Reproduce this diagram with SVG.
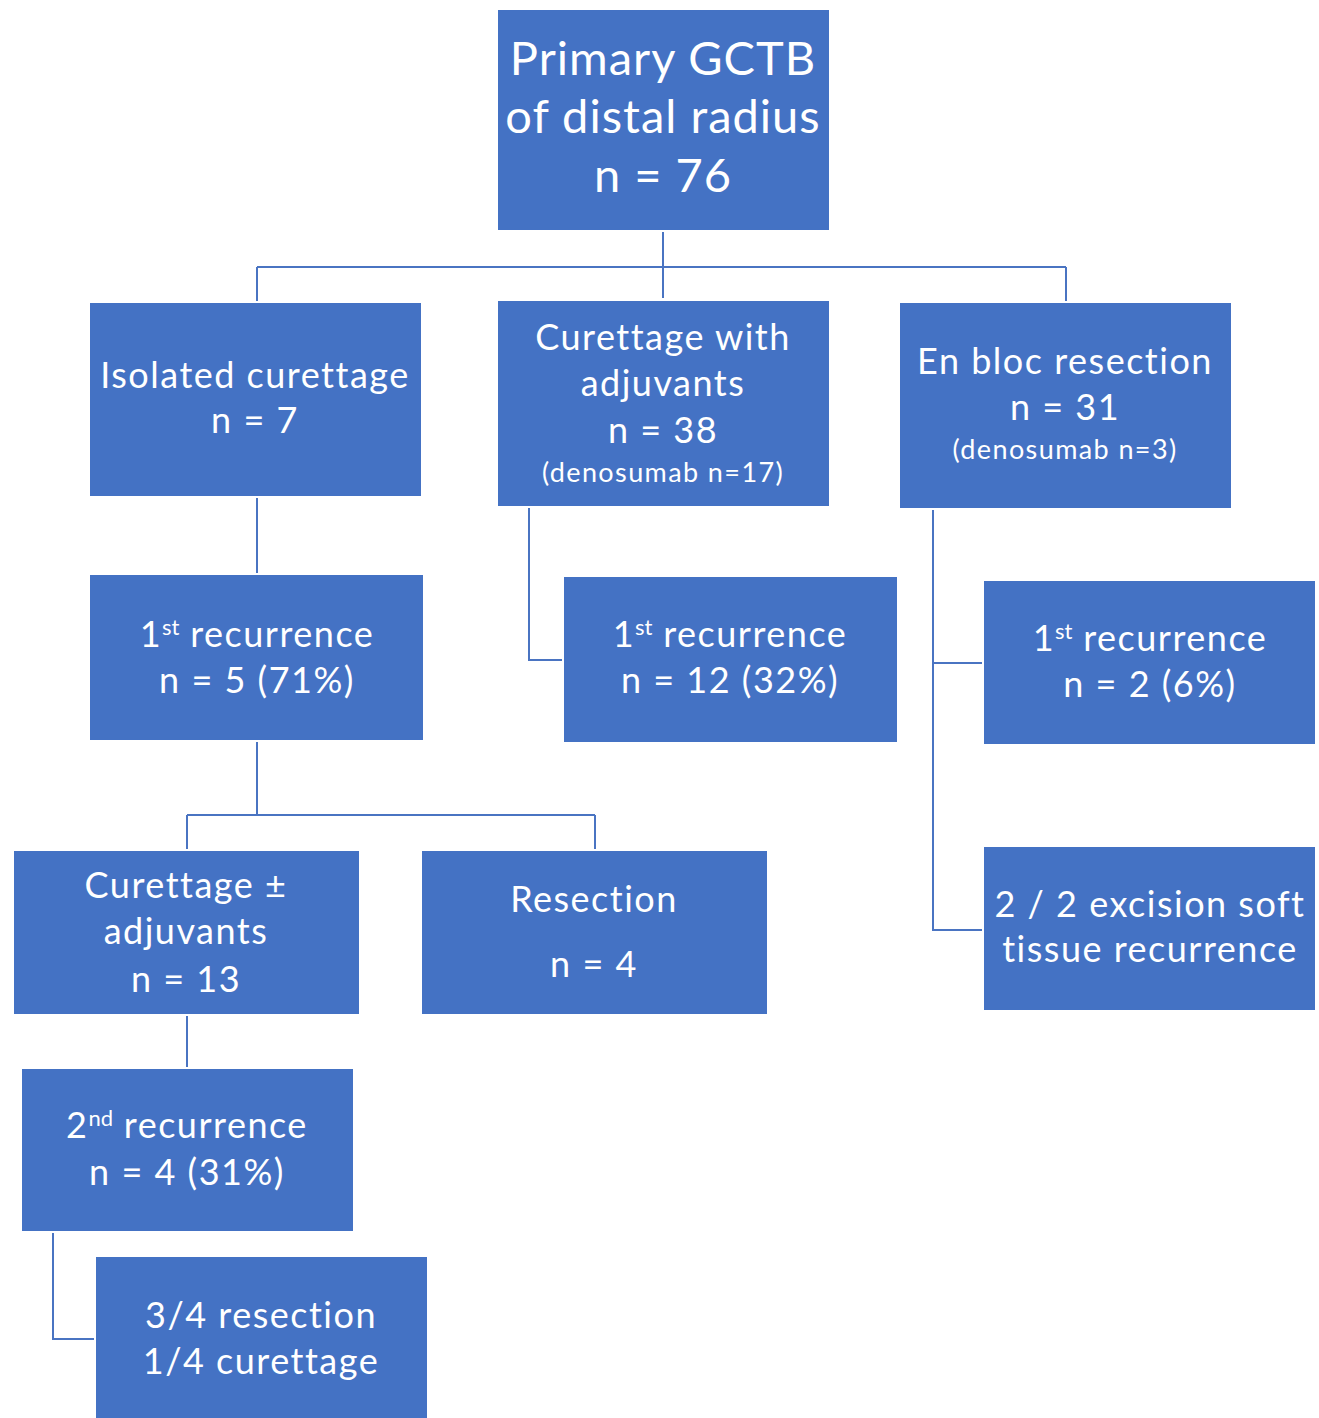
<svg xmlns="http://www.w3.org/2000/svg" width="1319" height="1418" viewBox="0 0 1319 1418">
<style>
.b{fill:#4472C4}
text{font-family:Lato,"Open Sans","Liberation Sans",sans-serif;fill:#fff;text-anchor:middle;font-size:36px;letter-spacing:1.5px}
.t{font-size:47px;letter-spacing:1px}
.s{font-size:27px;letter-spacing:1.4px}
.sup{font-size:22px;letter-spacing:0}
.c{stroke:#4a74c2;stroke-width:2;fill:none}
</style>
<rect width="1319" height="1418" fill="#fff"/>
<g id="connectors" class="c">
<path d="M663 232V298M257 267H1066M257 267V301M1066 267V301"/>
<path d="M257 498V573"/>
<path d="M529 508V660H562"/>
<path d="M933 510V930H982M933 663H982"/>
<path d="M257 742V815M187 815H595M187 815V849M595 815V849"/>
<path d="M187 1016V1067"/>
<path d="M53 1233V1339H94"/>
</g>
<g id="n-top"><rect class="b" x="498" y="10" width="331" height="220"/>
<text class="t" x="663" y="75">Primary GCTB</text><text class="t" x="663" y="133">of distal radius</text><text class="t" x="663" y="192">n = 76</text></g>
<g id="n-iso"><rect class="b" x="90" y="303" width="331" height="193"/>
<text x="255" y="388">Isolated curettage</text><text x="255" y="433">n = 7</text></g>
<g id="n-adj"><rect class="b" x="498" y="301" width="331" height="205"/>
<text x="663" y="350">Curettage with</text><text x="663" y="396">adjuvants</text><text x="663" y="443">n = 38</text><text class="s" x="663" y="482">(denosumab n=17)</text></g>
<g id="n-enbloc"><rect class="b" x="900" y="303" width="331" height="205"/>
<text x="1065" y="374">En bloc resection</text><text x="1065" y="420">n = 31</text><text class="s" x="1065" y="459">(denosumab n=3)</text></g>
<g id="n-rec1a"><rect class="b" x="90" y="575" width="333" height="165"/>
<text x="257" y="647">1<tspan class="sup" dy="-12">st</tspan><tspan dy="12"> recurrence</tspan></text><text x="257" y="693">n = 5 (71%)</text></g>
<g id="n-rec1b"><rect class="b" x="564" y="577" width="333" height="165"/>
<text x="730" y="647">1<tspan class="sup" dy="-12">st</tspan><tspan dy="12"> recurrence</tspan></text><text x="730" y="693">n = 12 (32%)</text></g>
<g id="n-rec1c"><rect class="b" x="984" y="581" width="331" height="163"/>
<text x="1150" y="651">1<tspan class="sup" dy="-12">st</tspan><tspan dy="12"> recurrence</tspan></text><text x="1150" y="697">n = 2 (6%)</text></g>
<g id="n-cur"><rect class="b" x="14" y="851" width="345" height="163"/>
<text x="186" y="898">Curettage ±</text><text x="186" y="944">adjuvants</text><text x="186" y="992">n = 13</text></g>
<g id="n-res"><rect class="b" x="422" y="851" width="345" height="163"/>
<text x="594" y="912">Resection</text><text x="594" y="977">n = 4</text></g>
<g id="n-exc"><rect class="b" x="984" y="847" width="331" height="163"/>
<text x="1150" y="917">2 / 2 excision soft</text><text x="1150" y="962">tissue recurrence</text></g>
<g id="n-rec2"><rect class="b" x="22" y="1069" width="331" height="162"/>
<text x="187" y="1138">2<tspan class="sup" dy="-12">nd</tspan><tspan dy="12"> recurrence</tspan></text><text x="187" y="1185">n = 4 (31%)</text></g>
<g id="n-final"><rect class="b" x="96" y="1257" width="331" height="161"/>
<text x="261" y="1328">3/4 resection</text><text x="261" y="1374">1/4 curettage</text></g>
</svg>
